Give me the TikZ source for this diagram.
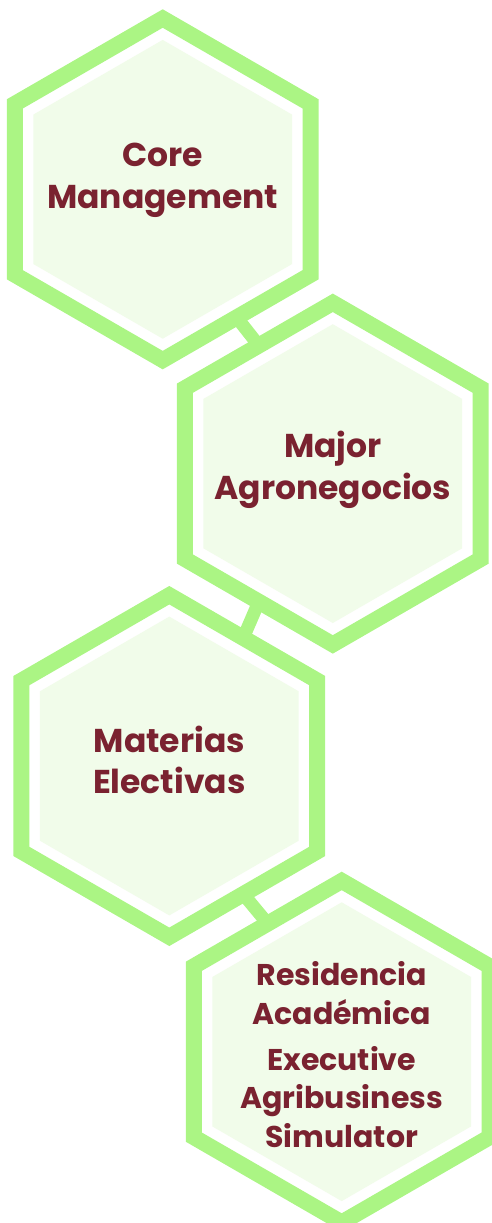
\documentclass[tikz,border=0pt]{standalone}
\usepackage{fontspec}
\setmainfont{Poppins}
\usepackage{tikz}
\usetikzlibrary{shapes.geometric, backgrounds}
\definecolor{hexgreen}{HTML}{ABF584}
\definecolor{hexfill}{HTML}{F1FCEA}
\definecolor{hextext}{HTML}{7A2230}
\tikzset{
    hexring/.style={regular polygon, regular polygon sides=6, shape border rotate=30,
        minimum size=170.8pt, inner sep=0pt, outer sep=0pt,
        draw=hexgreen, line width=8pt, fill=white},
    hexcore/.style={regular polygon, regular polygon sides=6, shape border rotate=30,
        minimum size=149.4pt, inner sep=0pt, outer sep=0pt, fill=hexfill},
    hexlabel/.style={align=center, text=hextext, inner sep=0pt,
        font=\bfseries\fontsize{16.5}{20.8}\selectfont},
    link/.style={draw=hexgreen, line width=6.5pt}
}

\begin{document}
\begin{tikzpicture}[x=0.5pt, y=-0.5pt]
    \useasboundingbox (0,0) rectangle (492,1223);
    % Hexagons
    \foreach \name/\x/\y in {core/162.7/189.3, major/332.8/473.6,
                             electivas/169.3/766, residencia/341.7/1051.7} {
        \node[hexring] (\name) at (\x,\y) {};
        \node[hexcore] (\name-in) at (\name) {};
    }
    % Labels
    \node[hexlabel, yshift=4.5pt] (core-t) at (core) {Core\\Management};
    \node[hexlabel, yshift=2pt] (major-t) at (major) {Major\\Agronegocios};
    \node[hexlabel, yshift=3pt] (electivas-t) at (electivas) {Materias\\Electivas};
    \node[hexlabel, yshift=-1.5pt, font=\bfseries\fontsize{15}{19.3}\selectfont]
        (residencia-t) at (residencia) {Residencia\\Académica\\[3.5pt]Executive\\Agribusiness\\Simulator};
    % Links between hexagons
    \begin{scope}[on background layer]
        \draw[link] (core.-60) -- (major.120);
        \draw[link] (major.-120) -- (electivas.60);
        \draw[link] (electivas.-60) -- (residencia.120);
    \end{scope}
\end{tikzpicture}
\end{document}
